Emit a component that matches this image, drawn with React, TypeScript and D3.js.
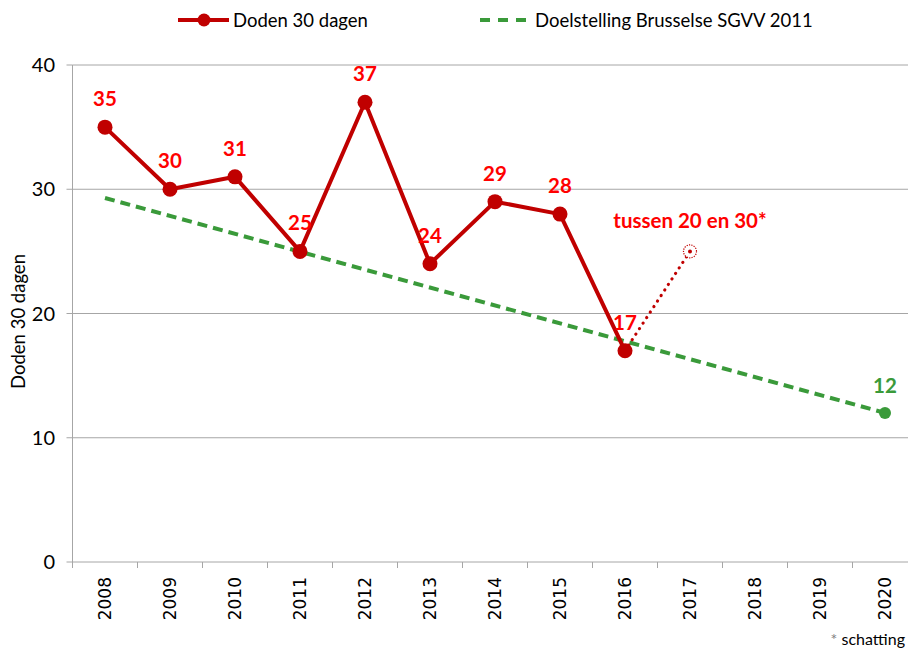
import React from 'react';
import * as d3 from 'd3';

// chart data
const years = ['2008', '2009', '2010', '2011', '2012', '2013', '2014', '2015', '2016', '2017', '2018', '2019', '2020'];
const deathYears = ['2008', '2009', '2010', '2011', '2012', '2013', '2014', '2015', '2016'];
const deaths = [35, 30, 31, 25, 37, 24, 29, 28, 17];
const estimateYears = ['2016', '2017'];
const estimateValues = [17, 25];
const estimateLabel = 'tussen 20 en 30*';
const targetYears = ['2008', '2020'];
const targetValues = [29.3, 12];
const yTicks = [0, 10, 20, 30, 40];

const FONT = 'Lato, "Open Sans", sans-serif';
const RED = '#C00000';
const LABEL_RED = '#FF0000';
const GREEN = '#3A9A3A';
const GRID = '#A6A6A6';

const App = () => {
  const left = 72.5;
  const band = 65;
  const top = 65;
  const bottom = 562;

  const x = d3.scaleBand<string>().domain(years).range([left, left + band * years.length]).padding(0);
  const y = d3.scaleLinear().domain([0, 40]).range([bottom, top]);
  const cx = (yr: string) => (x(yr) as number) + x.bandwidth() / 2;

  const line = d3.line<[string, number]>().x(d => cx(d[0])).y(d => y(d[1]));
  const deathPts = deathYears.map((yr, i) => [yr, deaths[i]] as [string, number]);
  const estPts = estimateYears.map((yr, i) => [yr, estimateValues[i]] as [string, number]);
  const targetPts = targetYears.map((yr, i) => [yr, targetValues[i]] as [string, number]);
  const rightEdge = left + band * years.length;

  return (
    <svg width={908} height={652} style={{ position: 'absolute', left: 0, top: 0, background: '#fff' }} fontFamily={FONT}>
      {/* gridlines */}
      {yTicks.filter(t => t > 0).map(t => (
        <line key={t} x1={left} x2={rightEdge} y1={y(t)} y2={y(t)} stroke={GRID} strokeWidth={1} />
      ))}
      {/* axes */}
      <line x1={left} x2={left} y1={top} y2={bottom} stroke={GRID} />
      <line x1={left} x2={rightEdge} y1={bottom} y2={bottom} stroke={GRID} />
      {yTicks.map(t => (
        <g key={t}>
          <line x1={left - 6} x2={left} y1={y(t)} y2={y(t)} stroke={GRID} />
          <text x={55} y={y(t)} dy="0.36em" textAnchor="end" fontSize={20} fill="#000">{t}</text>
        </g>
      ))}
      {years.map((yr, i) => (
        <line key={'t' + yr} x1={left + band * i} x2={left + band * i} y1={bottom} y2={bottom + 6} stroke={GRID} />
      ))}
      {years.map(yr => (
        <text key={'l' + yr} transform={`translate(${cx(yr)},${bottom + 15}) rotate(-90)`} textAnchor="end" dy="0.36em"
          fontSize={17} fontFamily='"DejaVu Sans", Verdana, sans-serif' fill="#000">{yr}</text>
      ))}
      <text transform={`translate(25,${(top + bottom) / 2 + 8}) rotate(-90)`} textAnchor="middle" fontSize={18.5} fill="#000">Doden 30 dagen</text>

      {/* target line */}
      <path d={line(targetPts) || ''} fill="none" stroke={GREEN} strokeWidth={4} strokeDasharray="10 6" />
      <circle cx={cx(targetYears[1])} cy={y(targetValues[1])} r={6} fill={GREEN} />
      <text x={cx(targetYears[1])} y={y(targetValues[1]) - 20} textAnchor="middle" fontSize={20.5} fontWeight="bold" fill={GREEN}>{targetValues[1]}</text>

      {/* estimate */}
      <path d={line(estPts) || ''} fill="none" stroke={RED} strokeWidth={3.2} strokeDasharray="0.1 6.5" strokeLinecap="round" />
      <circle cx={cx(estimateYears[1])} cy={y(estimateValues[1])} r={6.5} fill="#fff" stroke={RED} strokeWidth={1.2} strokeDasharray="1.2 1.2" />
      <circle cx={cx(estimateYears[1])} cy={y(estimateValues[1])} r={2} fill={RED} />
      <text x={cx(estimateYears[1])} y={y(estimateValues[1]) - 23} textAnchor="middle" fontSize={20.5} fontWeight="bold" fill={LABEL_RED}>{estimateLabel}</text>

      {/* deaths */}
      <path d={line(deathPts) || ''} fill="none" stroke={RED} strokeWidth={4} strokeLinejoin="round" />
      {deathPts.map(d => (
        <g key={'p' + d[0]}>
          <circle cx={cx(d[0])} cy={y(d[1])} r={7.5} fill={RED} />
          <text x={cx(d[0])} y={y(d[1]) - 21} textAnchor="middle" fontSize={20.5} fontWeight="bold" fill={LABEL_RED}>{d[1]}</text>
        </g>
      ))}

      {/* legend */}
      <line x1={178} x2={229} y1={20} y2={20} stroke={RED} strokeWidth={4} />
      <circle cx={204} cy={20} r={6.5} fill={RED} />
      <text x={233} y={20} dy="0.36em" fontSize={18.5} fill="#000">Doden 30 dagen</text>
      <line x1={480} x2={526} y1={20} y2={20} stroke={GREEN} strokeWidth={4} strokeDasharray="10 8" />
      <text x={535} y={20} dy="0.36em" fontSize={18.5} fill="#000">Doelstelling Brusselse SGVV 2011</text>

      <text x={905} y={645} textAnchor="end" fontSize={16} fill="#000"><tspan fill="#808080">*</tspan> schatting</text>
    </svg>
  );
};

export default App;
